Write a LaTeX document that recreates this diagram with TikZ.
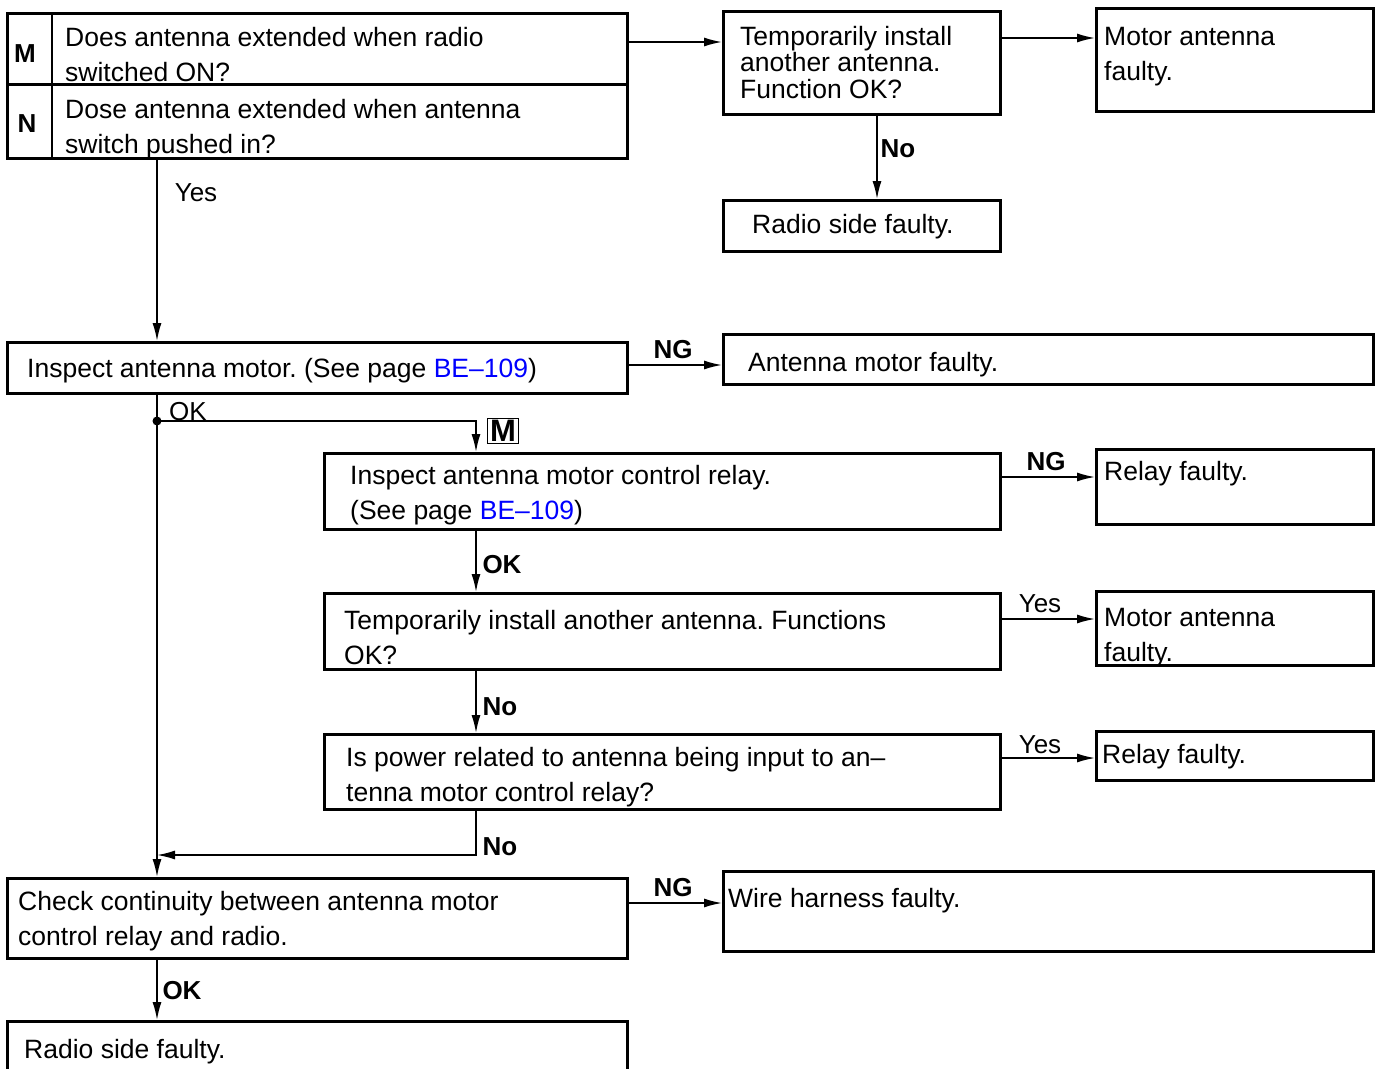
\documentclass[tikz,border=0pt]{standalone}
\usepackage{fontspec}
\setmainfont{Liberation Sans}
\usetikzlibrary{arrows.meta}
\frenchspacing

\begin{document}
\begin{tikzpicture}[
    x = 1pt, y = -1pt,
    cbox/.style = {
        draw,
        line width = 2.5pt,
        inner sep  = 0pt,
        anchor     = north west
    },
    btext/.style = {
        font       = \fontsize{26.5}{35}\selectfont,
        align      = left,
        anchor     = west,
        inner sep  = 0pt
    },
    lab/.style = {
        font       = \fontsize{26}{30}\selectfont,
        inner sep  = 0pt
    },
    blab/.style = {
        lab,
        font       = \fontsize{26}{30}\selectfont\bfseries
    },
    flow/.style = {
        line width = 1.6pt,
        -{Latex[length=18pt, width=9pt]}
    }
]

\clip (0,0) rectangle (1375,1068);

% ================================================================
%  BOXES  (top left corner at pixel coordinates, y downwards)
% ================================================================

\node[cbox, minimum width=620pt, minimum height=71pt] (qm)   at (6,12)    {};
\node[cbox, minimum width=620pt, minimum height=74pt] (qn)   at (6,83)    {};
\draw[line width=2.5pt] (52,12) -- (52,157);

\node[cbox, minimum width=277pt, minimum height=103pt] (tmp1) at (722,10)  {};
\node[cbox, minimum width=277pt, minimum height=103pt] (mot1) at (1095,7)  {};
\node[cbox, minimum width=277pt, minimum height=51pt]  (rad1) at (722,199) {};

\node[cbox, minimum width=620pt, minimum height=51pt]  (insm) at (6,341)   {};
\node[cbox, minimum width=650pt, minimum height=50pt]  (amf)  at (722,333) {};

\node[cbox, minimum width=676pt, minimum height=76pt]  (insr) at (323,452) {};
\node[cbox, minimum width=277pt, minimum height=75pt]  (rel1) at (1095,448) {};

\node[cbox, minimum width=676pt, minimum height=76pt]  (tmp2) at (323,592) {};
\node[cbox, minimum width=277pt, minimum height=74pt]  (mot2) at (1095,590) {};

\node[cbox, minimum width=676pt, minimum height=75pt]  (pwr)  at (323,733) {};
\node[cbox, minimum width=277pt, minimum height=49pt]  (rel2) at (1095,730) {};

\node[cbox, minimum width=620pt, minimum height=80pt]  (chk)  at (6,877)   {};
\node[cbox, minimum width=650pt, minimum height=80pt]  (wire) at (722,870) {};

\node[cbox, minimum width=620pt, minimum height=80pt]  (rad2) at (6,1020)  {};

% ================================================================
%  TEXTS IN THE BOXES
% ================================================================

\node[blab] (tm) at (25,54)  {M};
\node[blab] (tn) at (27,124) {N};

\node[btext] (t1) at (65,55)
    {Does antenna extended when radio\\switched ON?};
\node[btext] (t2) at (65,129.5)
    {Dose antenna extended when antenna\\switch pushed in?};

\node[btext, font=\fontsize{26.5}{26.5}\selectfont] (t3) at (740,62.5)
    {Temporarily install\\another antenna.\\Function OK?};
\node[btext] (t4) at (1104,56.5) {Motor antenna\\faulty.};
\node[btext] (t5) at (752,227)   {Radio side faulty.};

\node[btext] (t6) at (27,371)
    {Inspect antenna motor. (See page \textcolor{blue}{BE–109})};
\node[btext] (t7) at (748,365) {Antenna motor faulty.};

\node[btext] (t8) at (350,495.5)
    {Inspect antenna motor control relay.\\(See page \textcolor{blue}{BE–109})};
\node[btext] (t9) at (1104,474) {Relay faulty.};

\node[btext] (t10) at (344,637.5)
    {Temporarily install another antenna. Functions\\OK?};
\node[btext] (t11) at (1104,637.5) {Motor antenna\\faulty.};

\node[btext] (t12) at (346,777)
    {Is power related to antenna being input to an–\\tenna motor control relay?};
\node[btext] (t13) at (1102,757) {Relay faulty.};

\node[btext] (t14) at (18,921.5)
    {Check continuity between antenna motor\\control relay and radio.};
\node[btext] (t15) at (728,901) {Wire harness faulty.};

\node[btext] (t16) at (24,1052) {Radio side faulty.};

% ================================================================
%  CONNECTORS
% ================================================================

\coordinate (okdot) at (157,421);
\coordinate (merge) at (157,855);

\draw[flow] (qm.east |- 0,42)    -- (tmp1.west |- 0,42);
\draw[flow] (tmp1.east |- 0,38)  -- (mot1.west |- 0,38);
\draw[flow] (tmp1.south -| 877,0) -- (rad1.north -| 877,0);

\draw[flow] (qn.south -| 157,0)   -- (insm.north -| 157,0);
\draw[flow] (insm.east |- 0,365)  -- (amf.west |- 0,365);
\draw[flow] (insm.south -| 157,0) -- (chk.north -| 157,0);

\fill (okdot) circle (4.5);
\draw[flow] (okdot) -| (insr.north -| 476,0);

\draw[flow] (insr.east |- 0,477)  -- (rel1.west |- 0,477);
\draw[flow] (insr.south -| 476,0) -- (tmp2.north -| 476,0);

\draw[flow] (tmp2.east |- 0,619)  -- (mot2.west |- 0,619);
\draw[flow] (tmp2.south -| 476,0) -- (pwr.north -| 476,0);

\draw[flow] (pwr.east |- 0,758)   -- (rel2.west |- 0,758);
\draw[flow] (pwr.south -| 476,0)  |- (merge);

\draw[flow] (chk.east |- 0,903)   -- (wire.west |- 0,903);
\draw[flow] (chk.south -| 157,0)  -- (rad2.north -| 157,0);

% ================================================================
%  CONNECTOR LABELS
% ================================================================

\node[lab]  (yes1) at (196,193)  {Yes};
\node[blab] (no1)  at (898,149)  {No};
\node[blab] (ng1)  at (673,350)  {NG};
\node[lab]  (ok1)  at (188,412)  {OK};
\node[draw, line width=1.6pt, inner xsep=2.5pt, inner ysep=2pt,
      font=\fontsize{31}{32}\selectfont\bfseries] (mtag) at (503,431) {M};
\node[blab] (ng2)  at (1046,462) {NG};
\node[blab] (ok2)  at (502,565)  {OK};
\node[lab]  (yes2) at (1040,604) {Yes};
\node[blab] (no2)  at (500,707)  {No};
\node[lab]  (yes3) at (1040,745) {Yes};
\node[blab] (no3)  at (500,847)  {No};
\node[blab] (ng3)  at (673,888)  {NG};
\node[blab] (ok3)  at (182,991)  {OK};

\end{tikzpicture}
\end{document}
